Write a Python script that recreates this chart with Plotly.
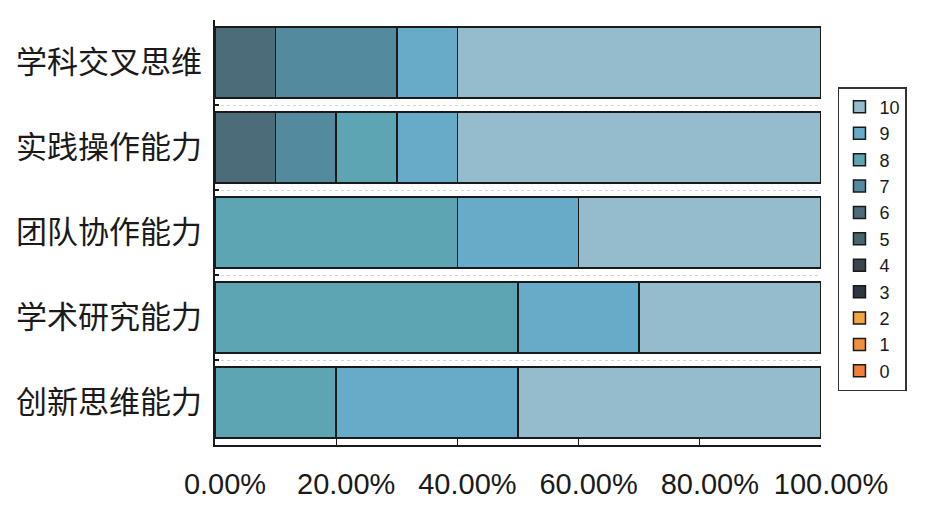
import plotly.graph_objects as go

categories = ["学科交叉思维", "实践操作能力", "团队协作能力", "学术研究能力", "创新思维能力"]
score_labels = ["0", "1", "2", "3", "4", "5", "6", "7", "8", "9", "10"]

# share (%) of each score per category (rows = scores 0..10)
score_0 = [0, 0, 0, 0, 0]
score_1 = [0, 0, 0, 0, 0]
score_2 = [0, 0, 0, 0, 0]
score_3 = [0, 0, 0, 0, 0]
score_4 = [0, 0, 0, 0, 0]
score_5 = [0, 0, 0, 0, 0]
score_6 = [10, 10, 0, 0, 0]
score_7 = [20, 10, 0, 0, 0]
score_8 = [0, 10, 40, 50, 20]
score_9 = [10, 10, 20, 20, 30]
score_10 = [60, 60, 40, 30, 50]
series = [score_0, score_1, score_2, score_3, score_4, score_5,
          score_6, score_7, score_8, score_9, score_10]

colors = ["#ef7f3a", "#f28f3b", "#f2a541", "#2e3640", "#3a4550", "#45646f",
          "#4b6c78", "#548a9e", "#5ea5b3", "#68abc8", "#95bccd"]

x_ticks = [0, 20, 40, 60, 80, 100]
x_tick_text = ["0.00%", "20.00%", "40.00%", "60.00%", "80.00%", "100.00%"]

fig = go.Figure()
for name, vals, col in zip(score_labels, series, colors):
    fig.add_trace(go.Bar(
        y=categories, x=vals, name=name, orientation="h",
        marker=dict(color=col, line=dict(color="#1a1a1a", width=1.5)),
    ))

# page body has an 8px default margin; figure is sized to compensate
fig.update_layout(
    barmode="stack",
    bargap=0.165,
    width=937, height=500,
    margin=dict(l=207, r=124, t=12, b=63, autoexpand=False),
    paper_bgcolor="white", plot_bgcolor="white",
    font=dict(family="Liberation Sans, Arial, sans-serif", color="#1a1a1a"),
    legend=dict(
        traceorder="reversed",
        x=1.028, xanchor="left", y=0.842, yanchor="top",
        bordercolor="#333333", borderwidth=1.5, bgcolor="white",
        font=dict(size=18, color="#1a1a1a"),
        itemwidth=30,
    ),
    xaxis=dict(
        range=[0, 100], tickvals=x_ticks, ticktext=x_tick_text,
        showgrid=False, zeroline=False, automargin=False,
        showline=True, linecolor="#1a1a1a", linewidth=1.5,
        ticks="inside", ticklen=7, tickcolor="#1a1a1a", tickwidth=1.2,
        tickfont=dict(size=29, color="#1a1a1a"),
        ticklabelstandoff=12, ticklabelshift=10,
    ),
    yaxis=dict(
        categoryorder="array", categoryarray=categories, autorange="reversed",
        tickson="boundaries", automargin=False,
        showgrid=True, gridcolor="#ddd0d0", griddash="dot", gridwidth=1,
        showline=True, linecolor="#1a1a1a", linewidth=1.5,
        ticks="inside", ticklen=4, tickcolor="#1a1a1a", tickwidth=1.5,
        tickfont=dict(size=31, family="Noto Sans CJK SC, sans-serif", color="#1a1a1a"),
        ticklabelstandoff=5,
    ),
)

fig.write_html("out.html")
